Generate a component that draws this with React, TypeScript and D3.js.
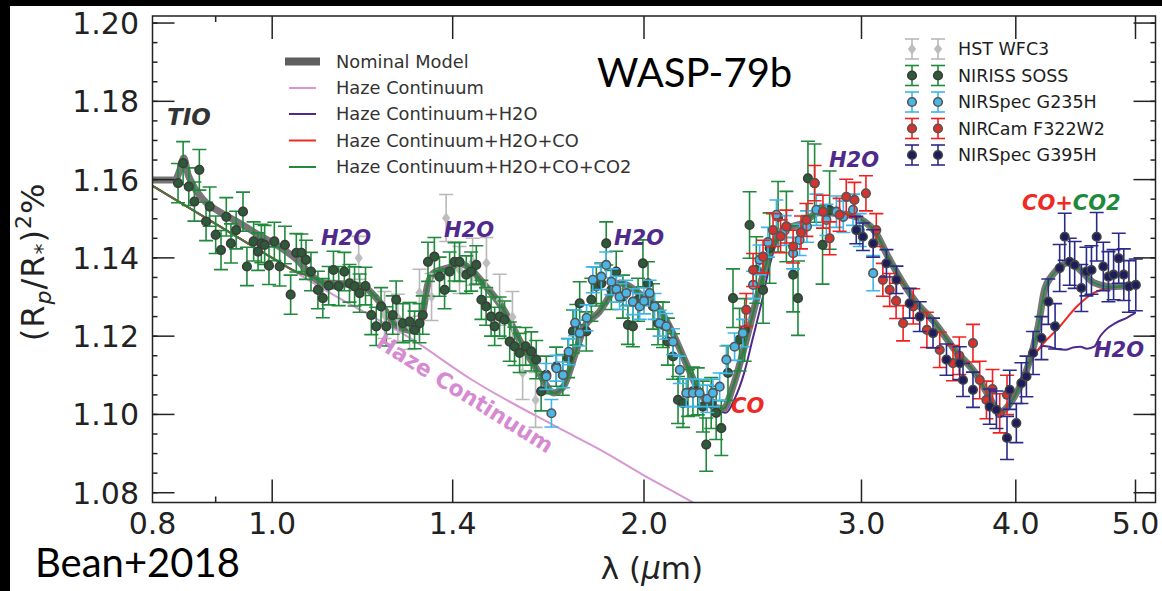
import React from 'react';
import * as d3 from 'd3';

// [wavelength (um), (Rp/R*)^2 (%), 1-sigma]
type Pt = [number, number, number];
type MP = [number, number];

const hstWfc3: Pt[] = [
  [1.175, 1.1400, 0.0055], [1.233, 1.1254, 0.0060], [1.264, 1.1247, 0.0060], [1.292, 1.1226, 0.0060],
  [1.316, 1.1311, 0.0060], [1.346, 1.1300, 0.0060], [1.383, 1.1502, 0.0060], [1.418, 1.1369, 0.0060],
  [1.453, 1.1390, 0.0060], [1.491, 1.1387, 0.0065], [1.528, 1.1293, 0.0065], [1.565, 1.1249, 0.0065],
  [1.595, 1.1106, 0.0068], [1.634, 1.1037, 0.0070],
];

const nirissSoss: Pt[] = [
  [0.839, 1.1591, 0.0050], [0.847, 1.1642, 0.0055], [0.856, 1.1582, 0.0048], [0.865, 1.1544, 0.0050],
  [0.873, 1.1625, 0.0052], [0.884, 1.1493, 0.0049], [0.890, 1.1531, 0.0050], [0.900, 1.1459, 0.0048],
  [0.909, 1.1420, 0.0050], [0.918, 1.1505, 0.0049], [0.926, 1.1437, 0.0050], [0.935, 1.1471, 0.0048],
  [0.947, 1.1518, 0.0050], [0.954, 1.1378, 0.0049], [0.966, 1.1442, 0.0050], [0.974, 1.1416, 0.0048],
  [0.980, 1.1437, 0.0049], [0.986, 1.1433, 0.0050], [0.994, 1.1380, 0.0048], [1.004, 1.1442, 0.0049],
  [1.014, 1.1378, 0.0050], [1.024, 1.1433, 0.0048], [1.035, 1.1306, 0.0050], [1.046, 1.1413, 0.0049],
  [1.056, 1.1413, 0.0048], [1.065, 1.1395, 0.0050], [1.075, 1.1365, 0.0049], [1.089, 1.1318, 0.0048],
  [1.099, 1.1297, 0.0050], [1.111, 1.1329, 0.0049], [1.121, 1.1369, 0.0048], [1.132, 1.1328, 0.0050],
  [1.144, 1.1365, 0.0049], [1.155, 1.1335, 0.0048], [1.166, 1.1327, 0.0050], [1.177, 1.1310, 0.0049],
  [1.190, 1.1328, 0.0048], [1.203, 1.1254, 0.0050], [1.214, 1.1225, 0.0049], [1.225, 1.1276, 0.0048],
  [1.237, 1.1225, 0.0050], [1.252, 1.1254, 0.0049], [1.260, 1.1293, 0.0048], [1.276, 1.1233, 0.0050],
  [1.292, 1.1237, 0.0049], [1.304, 1.1216, 0.0048], [1.316, 1.1233, 0.0050], [1.324, 1.1254, 0.0049],
  [1.337, 1.1390, 0.0050], [1.353, 1.1403, 0.0049], [1.366, 1.1352, 0.0050], [1.379, 1.1318, 0.0048],
  [1.392, 1.1365, 0.0050], [1.405, 1.1390, 0.0049], [1.418, 1.1390, 0.0050], [1.436, 1.1357, 0.0048],
  [1.449, 1.1365, 0.0050], [1.463, 1.1382, 0.0049], [1.477, 1.1293, 0.0050], [1.490, 1.1276, 0.0048],
  [1.504, 1.1250, 0.0050], [1.514, 1.1225, 0.0049], [1.528, 1.1250, 0.0050], [1.542, 1.1242, 0.0048],
  [1.557, 1.1186, 0.0050], [1.571, 1.1174, 0.0049], [1.586, 1.1157, 0.0050], [1.604, 1.1174, 0.0048],
  [1.621, 1.1161, 0.0050], [1.636, 1.1140, 0.0049], [1.651, 1.1059, 0.0050], [1.667, 1.1101, 0.0048],
  [1.698, 1.1122, 0.0050], [1.719, 1.1101, 0.0052], [1.736, 1.1144, 0.0050], [1.752, 1.1212, 0.0055],
  [1.763, 1.1229, 0.0052], [1.774, 1.1284, 0.0055], [1.796, 1.1212, 0.0050], [1.813, 1.1293, 0.0055],
  [1.830, 1.1327, 0.0050], [1.847, 1.1335, 0.0052], [1.864, 1.1437, 0.0055], [1.882, 1.1318, 0.0050],
  [1.899, 1.1365, 0.0052], [1.923, 1.1301, 0.0055], [1.941, 1.1229, 0.0050], [1.959, 1.1225, 0.0052],
  [1.978, 1.1293, 0.0055], [1.996, 1.1386, 0.0060], [2.015, 1.1335, 0.0055], [2.034, 1.1276, 0.0058],
  [2.053, 1.1233, 0.0055], [2.072, 1.1229, 0.0058], [2.091, 1.1186, 0.0060], [2.111, 1.1148, 0.0058],
  [2.131, 1.1037, 0.0060], [2.151, 1.1029, 0.0062], [2.171, 1.1055, 0.0060], [2.191, 1.1059, 0.0062],
  [2.211, 1.1059, 0.0060], [2.232, 1.1020, 0.0065], [2.246, 1.0923, 0.0068], [2.267, 1.1029, 0.0065],
  [2.288, 1.1004, 0.0068], [2.310, 1.0965, 0.0070], [2.339, 1.1106, 0.0070], [2.361, 1.1297, 0.0075],
  [2.390, 1.1191, 0.0080], [2.413, 1.1216, 0.0080], [2.435, 1.1484, 0.0085], [2.466, 1.1369, 0.0085],
  [2.497, 1.1318, 0.0085], [2.528, 1.1425, 0.0090], [2.568, 1.1505, 0.0090], [2.608, 1.1480, 0.0090],
  [2.641, 1.1357, 0.0095], [2.665, 1.1297, 0.0095], [2.715, 1.1603, 0.0095], [2.749, 1.1591, 0.0100],
  [2.790, 1.1433, 0.0100], [2.827, 1.1522, 0.0100],
];

const nirspecG235H: Pt[] = [
  [1.667, 1.1097, 0.0033], [1.683, 1.1003, 0.0035], [1.699, 1.1118, 0.0033], [1.720, 1.1101, 0.0033],
  [1.738, 1.1160, 0.0033], [1.759, 1.1234, 0.0033], [1.774, 1.1208, 0.0033], [1.797, 1.1247, 0.0033],
  [1.818, 1.1344, 0.0033], [1.847, 1.1352, 0.0033], [1.864, 1.1382, 0.0033], [1.882, 1.1339, 0.0033],
  [1.900, 1.1320, 0.0033], [1.911, 1.1301, 0.0033], [1.935, 1.1310, 0.0033], [1.959, 1.1288, 0.0033],
  [1.984, 1.1276, 0.0033], [2.000, 1.1290, 0.0033], [2.021, 1.1310, 0.0033], [2.040, 1.1276, 0.0033],
  [2.059, 1.1233, 0.0033], [2.085, 1.1225, 0.0033], [2.111, 1.1186, 0.0033], [2.138, 1.1114, 0.0035],
  [2.164, 1.1055, 0.0035], [2.191, 1.1055, 0.0035], [2.218, 1.1055, 0.0035], [2.250, 1.1040, 0.0035],
  [2.274, 1.1055, 0.0035], [2.303, 1.1071, 0.0035], [2.332, 1.1140, 0.0035], [2.368, 1.1173, 0.0035],
  [2.405, 1.1208, 0.0035], [2.451, 1.1331, 0.0035], [2.481, 1.1395, 0.0038], [2.520, 1.1440, 0.0038],
  [2.560, 1.1510, 0.0038], [2.600, 1.1470, 0.0038], [2.641, 1.1412, 0.0040], [2.673, 1.1446, 0.0040],
  [2.710, 1.1480, 0.0040], [2.758, 1.1523, 0.0040], [2.810, 1.1497, 0.0040], [2.863, 1.1518, 0.0040],
  [2.900, 1.1505, 0.0040], [2.953, 1.1523, 0.0040], [2.990, 1.1471, 0.0042], [3.066, 1.1361, 0.0045],
];

const nircamF322W2: Pt[] = [
  [2.420, 1.1267, 0.0042], [2.451, 1.1369, 0.0042], [2.497, 1.1403, 0.0042], [2.544, 1.1471, 0.0042],
  [2.580, 1.1455, 0.0042], [2.608, 1.1480, 0.0042], [2.641, 1.1429, 0.0042], [2.680, 1.1465, 0.0042],
  [2.707, 1.1497, 0.0042], [2.749, 1.1591, 0.0045], [2.792, 1.1518, 0.0042], [2.827, 1.1450, 0.0042],
  [2.880, 1.1510, 0.0042], [2.916, 1.1556, 0.0045], [2.961, 1.1548, 0.0045], [3.025, 1.1565, 0.0045],
  [3.084, 1.1471, 0.0042], [3.122, 1.1344, 0.0042], [3.162, 1.1318, 0.0042], [3.200, 1.1290, 0.0045],
  [3.242, 1.1233, 0.0045], [3.304, 1.1276, 0.0045], [3.389, 1.1216, 0.0045], [3.471, 1.1165, 0.0045],
  [3.558, 1.1131, 0.0045], [3.600, 1.1150, 0.0048], [3.693, 1.1182, 0.0048], [3.740, 1.1088, 0.0048],
  [3.787, 1.1037, 0.0048], [3.830, 1.1065, 0.0050], [3.882, 1.1003, 0.0050], [3.935, 1.1050, 0.0050],
];

const nirspecG395H: Pt[] = [
  [2.971, 1.1471, 0.0035], [3.008, 1.1454, 0.0035], [3.066, 1.1437, 0.0035], [3.143, 1.1386, 0.0035],
  [3.202, 1.1344, 0.0035], [3.282, 1.1284, 0.0038], [3.344, 1.1250, 0.0038], [3.428, 1.1208, 0.0038],
  [3.515, 1.1140, 0.0040], [3.603, 1.1131, 0.0042], [3.625, 1.1088, 0.0042], [3.693, 1.1063, 0.0045],
  [3.810, 1.1020, 0.0045], [3.858, 1.1012, 0.0048], [3.935, 1.0940, 0.0055], [3.955, 1.1063, 0.0050],
  [4.004, 1.0978, 0.0050], [4.042, 1.1080, 0.0052], [4.080, 1.1097, 0.0052], [4.131, 1.1157, 0.0055],
  [4.196, 1.1195, 0.0055], [4.250, 1.1288, 0.0058], [4.304, 1.1225, 0.0058], [4.341, 1.1374, 0.0060],
  [4.382, 1.1454, 0.0060], [4.423, 1.1390, 0.0060], [4.464, 1.1382, 0.0060], [4.520, 1.1323, 0.0060],
  [4.563, 1.1365, 0.0062], [4.606, 1.1369, 0.0062], [4.651, 1.1454, 0.0062], [4.709, 1.1378, 0.0062],
  [4.754, 1.1352, 0.0064], [4.800, 1.1357, 0.0064], [4.846, 1.1399, 0.0064], [4.892, 1.1357, 0.0066],
  [4.939, 1.1327, 0.0066], [5.003, 1.1331, 0.0066],
];

// models
const nominalModel: MP[] = [
  [0.800, 1.1599], [0.834, 1.1599], [0.842, 1.1625], [0.848, 1.1655], [0.855, 1.1612], [0.862, 1.1588],
  [0.880, 1.1548], [0.906, 1.1518], [0.940, 1.1490], [0.977, 1.1457], [1.014, 1.1428], [1.050, 1.1392],
  [1.078, 1.1352], [1.100, 1.1336], [1.140, 1.1334], [1.183, 1.1328], [1.220, 1.1290], [1.260, 1.1228],
  [1.299, 1.1214], [1.320, 1.1240], [1.336, 1.1330], [1.352, 1.1362], [1.397, 1.1377], [1.418, 1.1385],
  [1.432, 1.1382], [1.490, 1.1326], [1.540, 1.1267], [1.590, 1.1183], [1.645, 1.1106], [1.690, 1.1055],
  [1.720, 1.1070], [1.760, 1.1157], [1.790, 1.1224], [1.840, 1.1262], [1.890, 1.1318], [1.910, 1.1336],
  [2.000, 1.1300], [2.060, 1.1267], [2.110, 1.1208], [2.170, 1.1121], [2.220, 1.1055], [2.280, 1.1019],
  [2.320, 1.1015], [2.360, 1.1070], [2.420, 1.1190], [2.470, 1.1300], [2.520, 1.1400], [2.590, 1.1471],
  [2.690, 1.1489], [2.770, 1.1515], [2.900, 1.1512], [2.990, 1.1500], [3.080, 1.1465], [3.150, 1.1405],
  [3.230, 1.1344], [3.310, 1.1293], [3.440, 1.1234], [3.570, 1.1165], [3.710, 1.1105], [3.800, 1.1050],
  [3.880, 1.1006], [3.980, 1.1040], [4.090, 1.1122], [4.170, 1.1224], [4.220, 1.1318], [4.280, 1.1355],
  [4.340, 1.1375], [4.420, 1.1390], [4.510, 1.1369], [4.630, 1.1336], [4.780, 1.1326], [5.000, 1.1331],
];
const hazeModel: MP[] = [
  [0.800, 1.1584], [0.900, 1.1487], [1.000, 1.1400], [1.113, 1.1311], [1.299, 1.1191], [1.452, 1.1088],
  [1.700, 1.0968], [1.850, 1.0907], [2.008, 1.0841], [2.185, 1.0777], [2.250, 1.0752],
];
// no-TiO short-wavelength part shared by the molecular models
const hazeOnlyBlue: MP[] = [[0.800, 1.1584], [0.900, 1.1487], [1.000, 1.1400], [1.050, 1.1362]];
const redTail: MP[] = [[4.170, 1.1165], [4.340, 1.1224], [4.480, 1.1275], [4.630, 1.1311], [4.780, 1.1324], [5.000, 1.1331]];
const purpleCO: MP[] = [[2.280, 1.1019], [2.330, 1.1004], [2.370, 1.1042], [2.410, 1.1105], [2.450, 1.1195], [2.490, 1.1285], [2.530, 1.1385]];
const purpleTail: MP[] = [
  [4.170, 1.1165], [4.210, 1.1175], [4.260, 1.1173], [4.320, 1.1167], [4.390, 1.1165], [4.450, 1.1171],
  [4.510, 1.1173], [4.570, 1.1168], [4.630, 1.1173], [4.680, 1.1199], [4.730, 1.1216], [4.820, 1.1234],
  [4.920, 1.1247], [5.000, 1.1260],
];

const xTickValues = [1.0, 1.4, 2.0, 3.0, 4.0, 5.0];
const xTickLabels = [0.8, 1.0, 1.4, 2.0, 3.0, 4.0, 5.0];
const xMinorTicks = [0.9];
const yTickValues = [1.08, 1.10, 1.12, 1.14, 1.16, 1.18, 1.20];
const yMinorTicks = d3.range(1.08, 1.2001, 0.005);

const W = 1162;
const H = 591;
const P = { left: 152.5, right: 1155.5, top: 16, bottom: 502.5 };
const FONT = 'DejaVu Sans';

const x = d3.scaleLog().domain([0.8, 5.19]).range([P.left, P.right]);
const y = d3.scaleLinear().domain([1.0775, 1.2018]).range([P.bottom, P.top]);

const C = {
  gray: '#5e5e5e',
  pink: '#d896d4',
  purple: '#4f2a8c',
  red: '#ee2a24',
  green: '#1f8a3b',
};

const greenModel: MP[] = [...hazeOnlyBlue, ...nominalModel.filter(d => d[0] >= 1.078)];
const redModel: MP[] = [...greenModel.filter(d => d[0] <= 4.09), ...redTail];
const purpleModel: MP[] = [
  ...greenModel.filter(d => d[0] <= 2.22),
  ...purpleCO,
  ...greenModel.filter(d => d[0] >= 2.59 && d[0] <= 4.09),
  ...purpleTail,
];

const line = d3.line<MP>().x(d => x(d[0])).y(d => y(d[1])).curve(d3.curveMonotoneX);

const instruments = [
  { name: 'HST WFC3', data: hstWfc3, bar: '#b8b8b8', fill: '#bdbdbd', edge: 'none', diamond: true },
  { name: 'NIRISS SOSS', data: nirissSoss, bar: '#1f8a3b', fill: '#2e5a3a', edge: '#3c3c3c', diamond: false },
  { name: 'NIRSpec G235H', data: nirspecG235H, bar: '#3db4ea', fill: '#4bb6e6', edge: '#555', diamond: false },
  { name: 'NIRCam F322W2', data: nircamF322W2, bar: '#f0201e', fill: '#d8322e', edge: '#555', diamond: false },
  { name: 'NIRSpec G395H', data: nirspecG395H, bar: '#2a2a88', fill: '#1d1d5e', edge: '#444', diamond: false },
];

const models = [
  { name: 'Nominal Model', color: C.gray, width: 8 },
  { name: 'Haze Continuum', color: C.pink, width: 2 },
  { name: 'Haze Continuum+H2O', color: C.purple, width: 2 },
  { name: 'Haze Continuum+H2O+CO', color: C.red, width: 2 },
  { name: 'Haze Continuum+H2O+CO+CO2', color: C.green, width: 2 },
];

function Marker({ cx, cy, inst }: { cx: number; cy: number; inst: typeof instruments[number] }) {
  if (inst.diamond) {
    const s = 5.5;
    return <path d={`M${cx},${cy - s}L${cx + s * 0.75},${cy}L${cx},${cy + s}L${cx - s * 0.75},${cy}Z`} fill={inst.fill} />;
  }
  return <circle cx={cx} cy={cy} r={4.3} fill={inst.fill} stroke={inst.edge} strokeWidth={1.6} />;
}

function ErrBar({ cx, y0, y1, color }: { cx: number; y0: number; y1: number; color: string }) {
  const cap = 7;
  return (
    <g stroke={color} strokeWidth={1.6}>
      <line x1={cx} x2={cx} y1={y0} y2={y1} />
      <line x1={cx - cap} x2={cx + cap} y1={y0} y2={y0} />
      <line x1={cx - cap} x2={cx + cap} y1={y1} y2={y1} />
    </g>
  );
}

export default function App() {
  const legendModelY = [61.5, 88, 114, 140.5, 167];
  const legendDataY = [49, 75.5, 102, 128.5, 155];
  return (
    <svg width={W} height={H} style={{ position: 'fixed', left: 0, top: 0, background: '#fff' }} fontFamily={FONT}>
      <defs>
        <clipPath id="plotClip">
          <rect x={P.left} y={P.top} width={P.right - P.left} height={P.bottom - P.top} />
        </clipPath>
      </defs>
      <rect x={0} y={0} width={W} height={H} fill="#fff" />
      <rect x={0} y={0} width={W} height={6} fill="#000" />
      <rect x={0} y={0} width={10} height={H} fill="#000" />

      {/* models */}
      <g clipPath="url(#plotClip)" fill="none">
        <path d={line(hazeModel) || ''} stroke={C.pink} strokeWidth={2} />
        <path d={line(purpleModel) || ''} stroke={C.purple} strokeWidth={2} />
        <path d={line(redModel) || ''} stroke={C.red} strokeWidth={2} />
        <path d={line(nominalModel) || ''} stroke={C.gray} strokeWidth={7} strokeOpacity={0.85} strokeLinejoin="round" />
        <path d={line(greenModel) || ''} stroke={C.green} strokeWidth={1.6} />
      </g>

      {/* data */}
      <g clipPath="url(#plotClip)">
        {instruments.map(inst => (
          <g key={inst.name}>
            {inst.data.map((d, i) => (
              <ErrBar key={i} cx={x(d[0])} y0={y(d[1] - d[2])} y1={y(d[1] + d[2])} color={inst.bar} />
            ))}
            {inst.data.map((d, i) => (
              <Marker key={i} cx={x(d[0])} cy={y(d[1])} inst={inst} />
            ))}
          </g>
        ))}
      </g>

      {/* frame and ticks */}
      <g stroke="#222" strokeWidth={1.5}>
        <rect x={P.left} y={P.top} width={P.right - P.left} height={P.bottom - P.top} fill="none" />
        {xTickValues.map(t => (
          <g key={t}>
            <line x1={x(t)} x2={x(t)} y1={P.bottom} y2={P.bottom - 23} />
            <line x1={x(t)} x2={x(t)} y1={P.top} y2={P.top + 23} />
          </g>
        ))}
        {xMinorTicks.map(t => (
          <g key={t}>
            <line x1={x(t)} x2={x(t)} y1={P.bottom} y2={P.bottom - 6} />
            <line x1={x(t)} x2={x(t)} y1={P.top} y2={P.top + 6} />
          </g>
        ))}
        {yTickValues.map(t => (
          <g key={t}>
            <line x1={P.left} x2={P.left + 22} y1={y(t)} y2={y(t)} />
            <line x1={P.right} x2={P.right - 22} y1={y(t)} y2={y(t)} />
          </g>
        ))}
        {yMinorTicks.map((t, i) => (
          <g key={i}>
            <line x1={P.left} x2={P.left + 5} y1={y(t)} y2={y(t)} />
            <line x1={P.right} x2={P.right - 5} y1={y(t)} y2={y(t)} />
          </g>
        ))}
      </g>

      {/* tick labels */}
      <g fontSize={30} fill="#222">
        {xTickLabels.map(t => (
          <text key={t} x={x(t)} y={534} textAnchor="middle">{d3.format('.1f')(t)}</text>
        ))}
        {yTickValues.map(t => (
          <text key={t} x={139} y={y(t) + 11} textAnchor="end">{d3.format('.2f')(t)}</text>
        ))}
      </g>

      {/* axis labels */}
      <text x={652} y={579} fontSize={31} textAnchor="middle" fill="#222">
        λ (<tspan fontStyle="italic">μ</tspan>m)
      </text>
      <text transform="translate(44,262) rotate(-90)" fontSize={32} textAnchor="middle" fill="#222" letterSpacing={1}>
        (R<tspan fontSize={22} dy={7} fontStyle="italic">p</tspan>
        <tspan dy={-7}>/R</tspan>
        <tspan fontSize={22} dy={6}>*</tspan>
        <tspan dy={-6}>)</tspan>
        <tspan fontSize={22} dy={-13}>2</tspan>
        <tspan dy={13}>%</tspan>
      </text>

      {/* model legend */}
      <g fontSize={17.8} fill="#333">
        {models.map((m, i) => (
          <g key={m.name}>
            <line
              x1={m.width > 4 ? 285 : 289}
              x2={m.width > 4 ? 320 : 316}
              y1={legendModelY[i]}
              y2={legendModelY[i]}
              stroke={m.color}
              strokeWidth={m.width}
            />
            <text x={336} y={legendModelY[i] + 6}>{m.name}</text>
          </g>
        ))}
      </g>

      {/* data legend */}
      <g fontSize={17.5} fill="#1e1e1e">
        {instruments.map((inst, i) => (
          <g key={inst.name}>
            {[912, 938].map(cx => (
              <g key={cx}>
                <ErrBar cx={cx} y0={legendDataY[i] - 10} y1={legendDataY[i] + 10} color={inst.bar} />
                <Marker cx={cx} cy={legendDataY[i]} inst={inst} />
              </g>
            ))}
            <text x={958} y={legendDataY[i] + 6}>{inst.name}</text>
          </g>
        ))}
      </g>

      {/* annotations */}
      <g fontStyle="italic" fontWeight="bold">
        <text x={167} y={125} fontSize={23} fill="#333">TIO</text>
        <text x={321} y={245} fontSize={21} fill={C.purple}>H2O</text>
        <text x={444} y={237} fontSize={21} fill={C.purple}>H2O</text>
        <text x={614} y={245} fontSize={21} fill={C.purple}>H2O</text>
        <text x={829} y={167} fontSize={21} fill={C.purple}>H2O</text>
        <text x={1094} y={357} fontSize={21} fill={C.purple}>H2O</text>
        <text x={731} y={413} fontSize={21} fill={C.red}>CO</text>
        <text x={1022} y={210} fontSize={21}>
          <tspan fill={C.red}>CO+</tspan>
          <tspan fill={C.green}>CO2</tspan>
        </text>
      </g>
      <text transform="translate(461,400) rotate(32)" fontSize={22} fontWeight="bold" fill="#d68ad2" textAnchor="middle">
        Haze Continuum
      </text>

      <text x={597} y={87} fontSize={40} fontFamily="Lato" fill="#000">WASP-79b</text>
      <text x={35} y={577} fontSize={40} fontFamily="Lato" fill="#000">Bean+2018</text>
    </svg>
  );
}
